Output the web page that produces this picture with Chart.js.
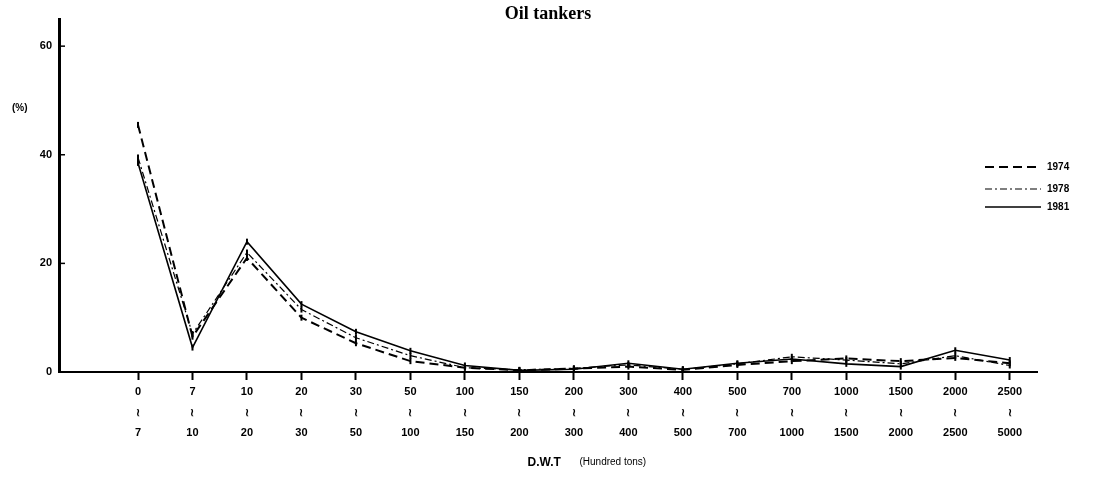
<!DOCTYPE html>
<html lang="en">
<head>
  <meta charset="UTF-8">
  <title>Oil tankers</title>
  <script src="https://cdn.jsdelivr.net/npm/chart.js"></script>
  <style>
    html, body { margin: 0; padding: 0; background: #fff; }
    #wrap { width: 1117px; height: 487px; }
  </style>
</head>
<body>
<div id="wrap"><canvas id="oilChart"></canvas></div>
<script>
  // size classes (D.W.T, hundred tons): lower bound / upper bound
  const lowerBounds = ['0','7','10','20','30','50','100','150','200','300','400','500','700','1000','1500','2000','2500'];
  const upperBounds = ['7','10','20','30','50','100','150','200','300','400','500','700','1000','1500','2000','2500','5000'];

  // share of oil tankers (%) in each class
  const share1974 = [45.5, 6.5, 21, 10, 5.3, 2.0, 0.8, 0.3, 0.6, 1.0, 0.4, 1.3, 2.0, 2.5, 2.0, 2.6, 1.6];
  const share1978 = [39.5, 7.0, 22, 11.5, 6.3, 3.0, 0.8, 0.4, 0.7, 1.3, 0.5, 1.5, 2.8, 2.2, 1.5, 3.0, 1.2];
  const share1981 = [38.5, 4.5, 24, 12.5, 7.4, 3.9, 1.2, 0.3, 0.5, 1.6, 0.5, 1.6, 2.4, 1.5, 1.0, 4.0, 2.2];

  const yTicks = [0, 20, 40, 60];

  const toPoints = arr => arr.map((v, i) => ({ x: i, y: v }));

  const series = [
    { label: '1974', data: share1974, dash: [9, 5], width: 2 },
    { label: '1978', data: share1978, dash: [7, 3, 2, 3], width: 1.2 },
    { label: '1981', data: share1981, dash: [], width: 1.6 }
  ];

  // title, (%) label, x-axis title, legend and inner y ticks
  const decor = {
    id: 'decor',
    afterDraw(chart) {
      const ctx = chart.ctx, a = chart.chartArea, y = chart.scales.y;
      ctx.save();
      ctx.fillStyle = '#000';
      ctx.strokeStyle = '#000';

      // y tick marks pointing into the plot
      ctx.lineWidth = 1.5;
      yTicks.forEach(t => {
        const py = y.getPixelForValue(t);
        ctx.beginPath(); ctx.moveTo(a.left, py); ctx.lineTo(a.left + 6, py); ctx.stroke();
      });

      ctx.textBaseline = 'middle';
      ctx.font = 'bold 18px "Liberation Serif"';
      ctx.textAlign = 'center';
      ctx.fillText('Oil tankers', (a.left + a.right) / 2, 14);

      ctx.font = 'bold 10px "Liberation Sans"';
      ctx.textAlign = 'left';
      ctx.fillText('(%)', 12, 108);

      // x axis title
      const tx = a.left + 0.479 * (a.right - a.left);
      ctx.font = 'bold 12px "Liberation Sans"';
      ctx.fillText('D.W.T', tx, 463);
      ctx.font = '10px "Liberation Sans"';
      ctx.fillText('(Hundred tons)', tx + 52, 462);

      // legend
      const ly = [a.top + 148, a.top + 170, a.top + 188];
      series.forEach((s, i) => {
        ctx.lineWidth = s.width;
        ctx.setLineDash(s.dash);
        ctx.beginPath(); ctx.moveTo(a.right - 52, ly[i]); ctx.lineTo(a.right + 4, ly[i]); ctx.stroke();
        ctx.setLineDash([]);
        ctx.font = 'bold 10px "Liberation Sans"';
        ctx.fillText(s.label, a.right + 10, ly[i]);
      });
      ctx.restore();
    }
  };

  new Chart(document.getElementById('oilChart'), {
    type: 'line',
    data: {
      datasets: series.map(s => ({
        label: s.label,
        data: toPoints(s.data),
        borderColor: '#000',
        backgroundColor: '#000',
        borderWidth: s.width,
        borderDash: s.dash,
        pointStyle: 'line',
        pointRotation: 90,
        pointRadius: 3,
        pointBorderWidth: 2,
        tension: 0
      }))
    },
    options: {
      responsive: true,
      maintainAspectRatio: false,
      animation: false,
      layout: { padding: { top: 19, right: 80, left: 0, bottom: 0 } },
      plugins: { legend: { display: false }, tooltip: { enabled: false } },
      scales: {
        x: {
          type: 'linear',
          min: -1.45,
          max: 16.5,
          afterFit: s => { s.height = 115; },
          afterBuildTicks: s => { s.ticks = lowerBounds.map((_, i) => ({ value: i })); },
          grid: { drawOnChartArea: false, tickLength: 8, tickWidth: 2, tickColor: '#000' },
          border: { color: '#000', width: 2 },
          ticks: {
            color: '#000',
            padding: 2,
            maxRotation: 0,
            autoSkip: false,
            font: { family: 'Liberation Sans', size: 11, weight: 'bold', lineHeight: 1.85 },
            callback: v => [lowerBounds[v], '\u2240', upperBounds[v]]
          }
        },
        y: {
          min: 0,
          max: 65,
          afterFit: s => { s.width = 59; },
          afterBuildTicks: s => { s.ticks = yTicks.map(v => ({ value: v })); },
          grid: { display: true, drawOnChartArea: false, drawTicks: false },
          border: { color: '#000', width: 3 },
          ticks: {
            color: '#000',
            padding: 7,
            font: { family: 'Liberation Sans', size: 11, weight: 'bold' }
          }
        }
      }
    },
    plugins: [decor]
  });
</script>
</body>
</html>
